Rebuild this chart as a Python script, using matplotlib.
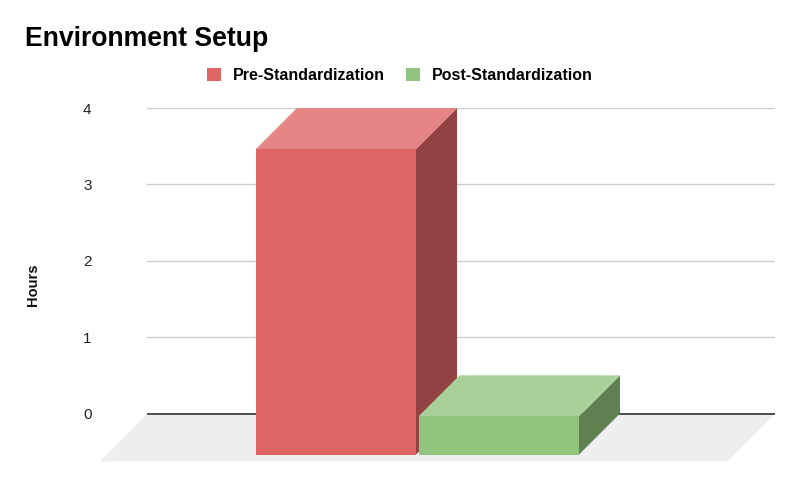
import matplotlib
matplotlib.use('Agg')
import matplotlib.pyplot as plt
from matplotlib.patches import Polygon, Patch

plt.rcParams['font.family'] = ['Liberation Sans', 'DejaVu Sans']

series = ['Pre-Standardization', 'Post-Standardization']
hours = [4, 0.5]
yticks = [0, 1, 2, 3, 4]

front_colors = ['#e06666', '#93c47d']
top_colors = ['#e68585', '#a9d099']
side_colors = ['#924242', '#5f8051']

W, H = 800, 495
fig = plt.figure(figsize=(W / 100, H / 100), dpi=100)
# plot area in pixels: x 147-775, y 108-413.5
ax = fig.add_axes([147 / W, 1 - 413.5 / H, 628 / W, 305.5 / H])
ax.set_xlim(147, 775)  # x units are pixels, makes the 3d offsets easy
ax.set_ylim(0, 4)
ax.patch.set_visible(False)
for s in ax.spines.values():
    s.set_visible(False)

px = 4 / 305.5  # hours per pixel
depth = 41 * px

# floor
floor_x = [147, 775, 727, 100]
floor_y = [0, 0, -48 * px, -48 * px]
ax.add_patch(Polygon(list(zip(floor_x, floor_y)), closed=True, fc='#eeeeee', ec='none', clip_on=False, zorder=1))

ax.set_yticks(yticks)
ax.set_xticks([])
ax.tick_params(axis='y', length=0, labelsize=11, labelcolor='#222222', pad=43)
for lab in ax.get_yticklabels():
    lab.set_horizontalalignment('center')
ax.grid(axis='y', color='#cccccc', lw=1)
ax.set_axisbelow(True)
ax.axhline(0, color='#333333', lw=1.2, zorder=2, clip_on=False, solid_capstyle='butt')

bar_left = [256, 418.5]
bar_w = [160, 160.5]
for i in range(2):
    x0 = bar_left[i]
    x1 = x0 + bar_w[i]
    y0 = -depth
    y1 = hours[i] - depth
    ax.add_patch(Polygon([(x1, y0), (x1 + 41, 0), (x1 + 41, hours[i]), (x1, y1)], fc=side_colors[i], ec='none', clip_on=False, zorder=3 + i))
    ax.add_patch(Polygon([(x0, y1), (x1, y1), (x1 + 41, hours[i]), (x0 + 41, hours[i])], fc=top_colors[i], ec='none', clip_on=False, zorder=3 + i))
    ax.bar(x0, hours[i], width=bar_w[i], bottom=y0, align='edge', color=front_colors[i], clip_on=False, zorder=3 + i)

ax.set_ylabel('Hours', fontsize=10.5, fontweight='bold', color='#111111')
ax.yaxis.set_label_coords(40 / W, 1 - 285 / H, transform=fig.transFigure)

fig.text(25 / W, 1 - 38.5 / H, 'Environment Setup', fontsize=19.2, fontweight='bold', color='black', va='center')

handles = [Patch(fc=front_colors[0]), Patch(fc=front_colors[1])]
fig.legend(handles, series, ncol=2, frameon=False, loc='center', bbox_to_anchor=(400 / W, 1 - 75.5 / H),
           prop={'size': 11.5, 'weight': 'bold'}, handlelength=0.9, handleheight=0.9, handletextpad=0.75, columnspacing=1.3)

fig.savefig('out.png', dpi=100)
